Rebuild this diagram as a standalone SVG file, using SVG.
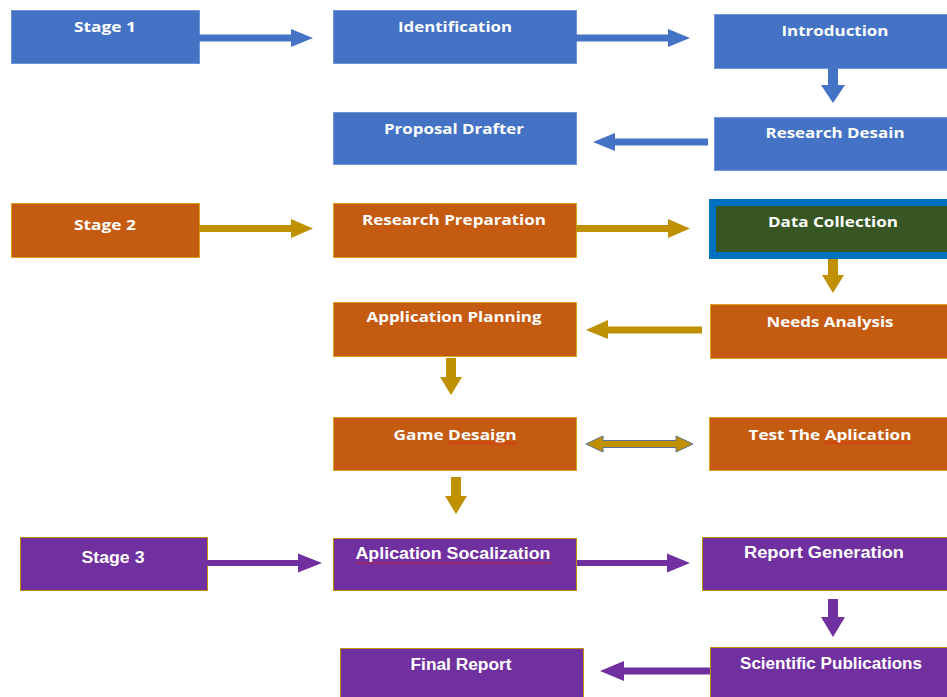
<svg xmlns="http://www.w3.org/2000/svg" width="947" height="697" viewBox="0 0 947 697">
<defs>
<pattern id="wave" width="4" height="3" patternUnits="userSpaceOnUse"><path d="M0 0.5 L2 2.5 L4 0.5" fill="none" stroke="#E02020" stroke-width="1"/></pattern>
</defs>
<style>
.b{fill:#4472C4;stroke:#6E96D9;stroke-width:1}
.o{fill:#C55A11;stroke:#D9A520;stroke-width:1}
.p{fill:#7030A0;stroke:#BF9000;stroke-width:1}
.ab{fill:#4472C4}
.ao{fill:#BF9000}
.ap{fill:#7030A0}
text{fill:#fff;font-weight:bold;text-anchor:middle}
.t1{font-family:"Open Sans","DejaVu Sans",sans-serif;font-size:14px}
.t2{font-family:"Open Sans","Liberation Sans",sans-serif;font-size:15px}
.t3{font-family:"Liberation Sans Narrow","Liberation Sans",sans-serif;font-size:16px}
.sq{fill:url(#wave)}
</style>
<g id="stage1"><rect class="b" x="11.5" y="10.5" width="188" height="53"/><text class="t1" x="105" y="32" textLength="62" lengthAdjust="spacingAndGlyphs">Stage 1</text></g>
<g id="identification"><rect class="b" x="333.5" y="10.5" width="243" height="53"/><text class="t1" x="455" y="32" textLength="114" lengthAdjust="spacingAndGlyphs">Identification</text></g>
<g id="introduction"><rect class="b" x="714.5" y="14.5" width="240" height="54"/><text class="t1" x="835" y="36" textLength="107" lengthAdjust="spacingAndGlyphs">Introduction</text></g>
<g id="proposal"><rect class="b" x="333.5" y="112.5" width="243" height="52"/><text class="t1" x="454" y="134" textLength="140" lengthAdjust="spacingAndGlyphs">Proposal Drafter</text></g>
<g id="researchDesain"><rect class="b" x="714.5" y="117.5" width="240" height="53"/><text class="t1" x="835" y="138" textLength="139" lengthAdjust="spacingAndGlyphs">Research Desain</text></g>

<g id="stage2"><rect class="o" x="11.5" y="203.5" width="188" height="54"/><text class="t2" x="105" y="230" textLength="62" lengthAdjust="spacingAndGlyphs">Stage 2</text></g>
<g id="researchPrep"><rect class="o" x="333.5" y="203.5" width="243" height="54"/><text class="t2" x="454" y="225" textLength="184" lengthAdjust="spacingAndGlyphs">Research Preparation</text></g>
<g id="dataCollection"><rect x="712.5" y="202.5" width="245" height="53" fill="#375623" stroke="#0070C0" stroke-width="7"/><text class="t2" x="833" y="227" textLength="130" lengthAdjust="spacingAndGlyphs">Data Collection</text></g>
<g id="appPlanning"><rect class="o" x="333.5" y="302.5" width="243" height="54"/><text class="t2" x="454" y="322" textLength="175" lengthAdjust="spacingAndGlyphs">Application Planning</text></g>
<g id="needsAnalysis"><rect class="o" x="710.5" y="304.5" width="245" height="54"/><text class="t2" x="830" y="327" textLength="127" lengthAdjust="spacingAndGlyphs">Needs Analysis</text></g>
<g id="gameDesaign"><rect class="o" x="333.5" y="417.5" width="243" height="53"/><text class="t2" x="455" y="440" textLength="123" lengthAdjust="spacingAndGlyphs">Game Desaign</text><rect class="sq" x="449" y="442" width="68" height="3"/></g>
<g id="testApp"><rect class="o" x="709.5" y="417.5" width="245" height="53"/><text class="t2" x="830" y="440" textLength="163" lengthAdjust="spacingAndGlyphs">Test The Aplication</text><rect class="sq" x="825" y="442" width="87" height="3"/></g>

<g id="stage3"><rect class="p" x="20.5" y="537.5" width="187" height="53"/><text class="t3" x="113" y="563" textLength="63" lengthAdjust="spacingAndGlyphs">Stage 3</text></g>
<g id="appSocalization"><rect class="p" x="333.5" y="538.5" width="243" height="52"/><text class="t3" x="453" y="559" textLength="195" lengthAdjust="spacingAndGlyphs">Aplication Socalization</text><rect class="sq" x="356" y="562" width="195" height="3"/></g>
<g id="reportGen"><rect class="p" x="702.5" y="537.5" width="252" height="53"/><text class="t3" x="824" y="558" textLength="160" lengthAdjust="spacingAndGlyphs">Report Generation</text></g>
<g id="sciPub"><rect class="p" x="710.5" y="647.5" width="245" height="60"/><text class="t3" x="831" y="669" textLength="182" lengthAdjust="spacingAndGlyphs">Scientific Publications</text></g>
<g id="finalReport"><rect class="p" x="340.5" y="648.5" width="243" height="60"/><text class="t3" x="461" y="670" textLength="101" lengthAdjust="spacingAndGlyphs">Final Report</text></g>

<g id="connectors">
<polygon class="ab" points="199,34.5 291,34.5 291,29 313,38 291,47 291,41.5 199,41.5"/>
<polygon class="ab" points="576,34.5 668,34.5 668,29 690,38 668,47 668,41.5 576,41.5"/>
<polygon class="ab" points="828,68 838,68 838,85 845,85 833,103 821,85 828,85"/>
<polygon class="ab" points="708,138.5 615,138.5 615,133 593,142 615,151 615,145.5 708,145.5"/>

<polygon class="ao" points="199,225 291,225 291,219 313,228.5 291,238 291,232 199,232"/>
<polygon class="ao" points="576,225 668,225 668,219 690,228.5 668,238 668,232 576,232"/>
<polygon class="ao" points="828,259 838,259 838,275 844,275 833,293 822,275 828,275"/>
<polygon class="ao" points="702,326.5 608,326.5 608,320 586,330 608,339 608,333.5 702,333.5"/>
<polygon class="ao" points="446,358 456,358 456,377 462,377 451,395 440,377 446,377"/>
<polygon points="586,444 603,436 603,440.5 676,440.5 676,436 693,444 676,452 676,447.5 603,447.5 603,452" fill="#BF9000" stroke="#5B7290" stroke-width="1"/>
<polygon class="ao" points="451,477 461,477 461,496 467,496 456,514 445,496 451,496"/>

<polygon class="ap" points="207,560 298,560 298,553.5 322,563 298,572.5 298,566 207,566"/>
<polygon class="ap" points="577,560 667,560 667,553.5 690,563 667,572.5 667,566 577,566"/>
<polygon class="ap" points="828,599 838,599 838,617 845,617 833,637 821,617 828,617"/>
<polygon class="ap" points="710,667.5 624,667.5 624,661 600,671 624,681 624,674.5 710,674.5"/>
</g>
</svg>
